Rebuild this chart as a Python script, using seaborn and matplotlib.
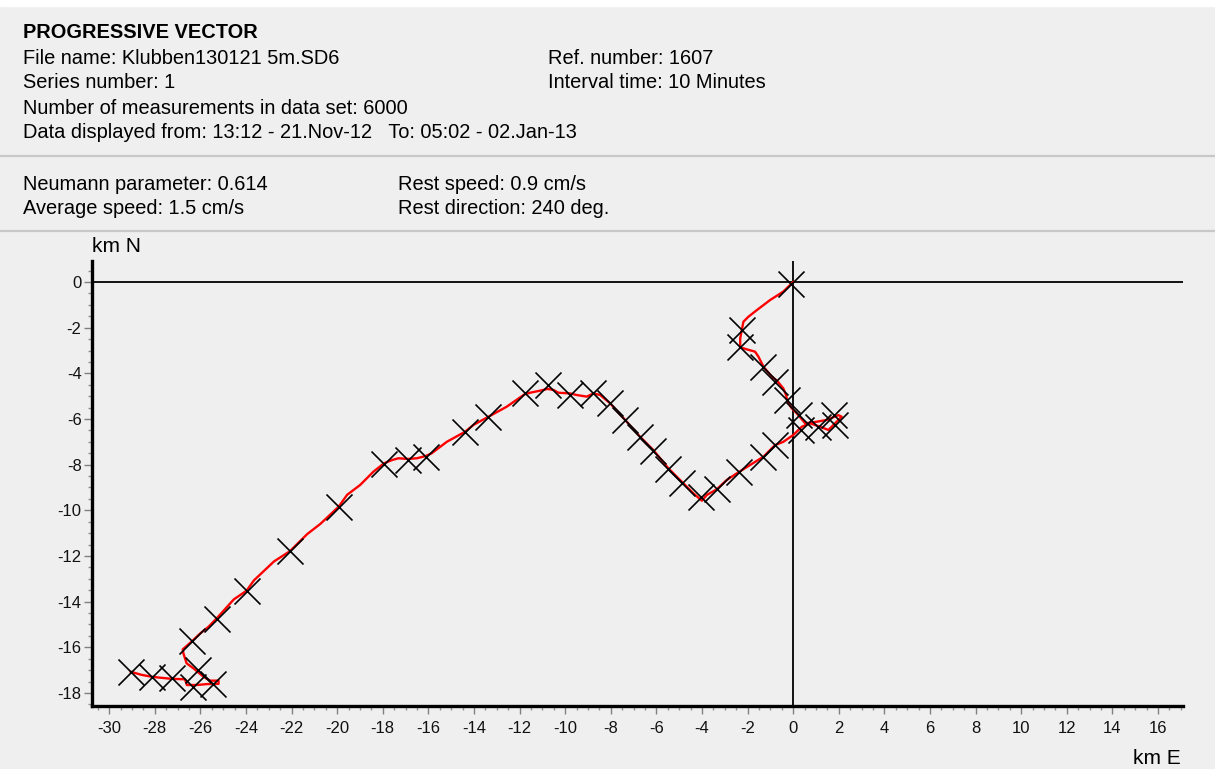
import matplotlib
matplotlib.use("Agg")
import matplotlib.pyplot as plt
from matplotlib.lines import Line2D
from matplotlib.patches import Rectangle
from matplotlib.ticker import MultipleLocator
import pandas as pd
import seaborn as sns

# red progressive vector track, km east / km north
track_x = [0.0, -0.43, -1.01, -1.59, -1.96, -2.18, -2.25, -2.32, -2.32, -2.03, -1.67, -1.52,
           -1.3, -0.93, -0.71, -0.43, -0.31, -0.25, -0.06, 0.16, 0.53, 1.04, 1.48, 1.99, 2.13,
           1.84, 1.55, 1.18, 0.75, 0.38, 0.01, -0.43, -0.79, -1.3, -2.36, -2.91, -3.35, -3.79,
           -4.0, -4.37, -4.88, -5.47, -6.13, -6.71, -7.37, -8.03, -8.46, -8.76, -9.05, -9.49,
           -9.78, -10.29, -10.51, -10.76, -11.1, -11.54, -11.78, -12.56, -13.36, -14.02, -14.39,
           -15.19, -15.85, -16.11, -16.5, -16.9, -17.31, -17.6, -17.94, -18.41, -18.99, -19.56,
           -19.93, -20.73, -21.31, -22.07, -22.77, -23.65, -23.97, -24.53, -25.28, -25.64, -26.0,
           -26.35, -26.77, -26.74, -26.6, -26.3, -25.86, -25.57, -25.2, -25.2, -25.7, -26.15,
           -26.59, -26.67, -27.25, -27.76, -28.13, -28.6, -29.05]
track_y = [0.0, -0.42, -0.79, -1.23, -1.52, -1.74, -2.1, -2.47, -2.86, -2.95, -3.05, -3.27,
           -3.71, -4.15, -4.32, -4.66, -4.95, -5.24, -5.53, -5.75, -6.19, -6.12, -6.04, -5.83, -5.9,
           -6.19, -6.48, -6.34, -6.19, -6.34, -6.7, -7.0, -7.14, -7.65, -8.31, -8.67, -9.08, -9.33,
           -9.58, -9.26, -8.75, -8.16, -7.36, -6.78, -6.04, -5.31, -4.95, -4.88, -5.02, -4.95,
           -4.88, -4.85, -4.73, -4.68, -4.76, -4.85, -4.92, -5.46, -5.9, -6.26, -6.56,
           -7.0, -7.5, -7.62, -7.72, -7.75, -7.72, -7.8, -7.94, -8.31, -8.89, -9.32,
           -9.84, -10.59, -11.04, -11.79, -12.24, -13.07, -13.52, -13.9, -14.73, -15.1, -15.39,
           -15.72, -16.09, -16.27, -16.7, -16.92, -17.29, -17.46, -17.46, -17.6, -17.61, -17.65,
           -17.65, -17.4, -17.38, -17.33, -17.29, -17.2, -17.07]

# daily markers
mark_x = [-0.1, -2.25, -2.32, -1.3, -0.79, -0.25, 0.28, 0.34, 1.11, 1.8, 1.84, -0.79, -1.3,
          -2.36, -3.35, -4.05, -4.88, -5.47, -6.13, -6.71, -7.37, -8.03, -8.76, -9.78, -10.76,
          -11.78, -13.36, -14.39, -16.1, -16.9, -17.94, -19.93, -22.07, -23.97, -25.28, -26.35,
          -26.08, -25.43, -26.3, -27.25, -28.13, -29.05]
mark_y = [-0.1, -2.1, -2.86, -3.71, -4.37, -5.17, -5.83, -6.48, -6.34, -5.83, -6.26, -7.14,
          -7.65, -8.31, -9.08, -9.42, -8.8, -8.2, -7.4, -6.8, -6.06, -5.32, -4.88, -4.96, -4.51,
          -4.88, -5.92, -6.58, -7.65, -7.8, -7.98, -9.84, -11.79, -13.52, -14.75, -15.72,
          -17.0, -17.61, -17.73, -17.34, -17.29, -17.07]

x_ticks = list(range(-30, 17, 2))
y_ticks = list(range(-18, 1, 2))

header = ["File name: Klubben130121 5m.SD6", "Series number: 1",
          "Number of measurements in data set: 6000",
          "Data displayed from: 13:12 - 21.Nov-12   To: 05:02 - 02.Jan-13"]
header_right = ["Ref. number: 1607", "Interval time: 10 Minutes"]
stats_left = ["Neumann parameter: 0.614", "Average speed: 1.5 cm/s"]
stats_right = ["Rest speed: 0.9 cm/s", "Rest direction: 240 deg."]

plt.rcParams["font.family"] = ["Liberation Sans", "DejaVu Sans"]
plt.rcParams["axes.unicode_minus"] = False
bg = "#efefef"
W, H = 1215, 769

fig = plt.figure(figsize=(W / 100, H / 100), dpi=100, facecolor=bg)
fig.patches.append(Rectangle((0, 1 - 6 / H), 1, 6 / H, transform=fig.transFigure,
                             color="white", zorder=0))
for yy in (156, 231):
    fig.add_artist(Line2D([0, 1], [1 - yy / H, 1 - yy / H], color="#c8c8c8", lw=1.6))

fs = 14.4
fig.text(23 / W, 1 - 32 / H, "PROGRESSIVE VECTOR", fontsize=fs, fontweight="bold", va="center")
for i, s in enumerate(header):
    fig.text(23 / W, 1 - (58 + 25 * i) / H, s, fontsize=fs, va="center")
for i, s in enumerate(header_right):
    fig.text(548 / W, 1 - (58 + 25 * i) / H, s, fontsize=fs, va="center")
for i, s in enumerate(stats_left):
    fig.text(23 / W, 1 - (184 + 25 * i) / H, s, fontsize=fs, va="center")
for i, s in enumerate(stats_right):
    fig.text(398 / W, 1 - (184 + 25 * i) / H, s, fontsize=fs, va="center")

ax = fig.add_axes([92 / W, 1 - 706 / H, (1183 - 92) / W, (706 - 261) / H])
ax.set_facecolor(bg)

df_track = pd.DataFrame({"x": track_x, "y": track_y})
df_mark = pd.DataFrame({"x": mark_x, "y": mark_y})

ax.axhline(0, color="black", lw=1.3, zorder=1)
ax.axvline(0, color="black", lw=1.3, zorder=1)
sns.lineplot(data=df_track, x="x", y="y", sort=False, estimator=None, color="red",
             lw=1.7, ax=ax, zorder=2)
sns.scatterplot(data=df_mark, x="x", y="y", marker="x", s=350, color="black",
                linewidth=1.2, ax=ax, zorder=3)

ax.set_xlim(-30.75, 17.1)
ax.set_ylim(-18.57, 0.92)
ax.set_xticks(x_ticks)
ax.set_yticks(y_ticks)
ax.xaxis.set_minor_locator(MultipleLocator(0.5))
ax.yaxis.set_minor_locator(MultipleLocator(0.5))
ax.set_xlabel("")
ax.set_ylabel("")
for side in ("top", "right"):
    ax.spines[side].set_visible(False)
for side in ("left", "bottom"):
    ax.spines[side].set_linewidth(2.4)
    ax.spines[side].set_color("black")
ax.tick_params(which="major", length=5.5, width=1, color="#808080", labelsize=12,
               labelcolor="#111111")
ax.tick_params(axis="x", which="major", pad=5)
ax.tick_params(axis="y", which="major", pad=2)
ax.tick_params(which="minor", length=3, width=1, color="#909090")

fig.text(92 / W, 1 - 247 / H, "km N", fontsize=15, va="center", ha="left")
fig.text(1181 / W, 1 - 759 / H, "km E", fontsize=15, va="center", ha="right")

fig.savefig("out.png", dpi=100, facecolor=bg)
